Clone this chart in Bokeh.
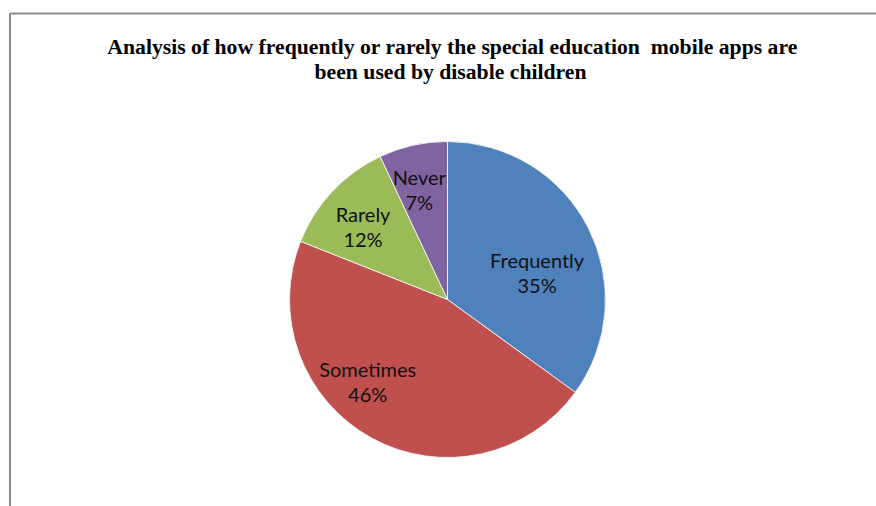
import math
from bokeh.plotting import figure
from bokeh.models import Range1d, ColumnDataSource
from bokeh.core.properties import value
from bokeh.embed import file_html
from bokeh.resources import INLINE

# ---- data ----
categories = ["Frequently", "Sometimes", "Rarely", "Never"]
shares = [35, 46, 12, 7]
colors = ["#4F81BD", "#C0504D", "#9BBB59", "#8064A2"]
title_lines = [
    "Analysis of how frequently or rarely the special education\u00a0 mobile apps are",
    "been used by disable children",
]

W, H = 876, 506
p = figure(width=W, height=H, output_backend="svg", toolbar_location=None,
           x_range=Range1d(0, W), y_range=Range1d(0, H), min_border=0)
p.axis.visible = False
p.grid.visible = False
p.outline_line_color = None
p.background_fill_color = "white"
p.border_fill_color = "white"

# frame lines (chart area border, partly cropped)
p.segment(x0=[9.5, 9.5], y0=[493, 493], x1=[W + 5, 9.5], y1=[493, -5],
          line_color="#8c8c8c", line_width=2)

# pie
cx, cy, r = 447, 207, 158
total = sum(shares)
starts, ends, mids = [], [], []
a = math.pi / 2
for s in shares:
    sweep = 2 * math.pi * s / total
    starts.append(a - sweep)
    ends.append(a)
    mids.append(a - sweep / 2)
    a -= sweep
src = ColumnDataSource(dict(start=starts, end=ends, color=colors, cat=categories))
p.wedge(x=cx, y=cy, radius=r, start_angle="start", end_angle="end",
        fill_color="color", line_color="white", line_width=0.8, source=src)

# labels (layout nudges: radius fraction and angle offset per label)
label_radius = [0.59, 0.73, 0.70, 0.71]
label_angle_shift = [-11, -15, 3, 2]
lx, ly, ltxt = [], [], []
for i, c in enumerate(categories):
    ang = mids[i] + math.radians(label_angle_shift[i])
    rr = r * label_radius[i]
    x = cx + rr * math.cos(ang)
    y = cy + rr * math.sin(ang)
    lx += [x, x]
    ly += [y + 14, y - 11]
    ltxt += [c, f"{shares[i]}%"]
p.text(x=lx, y=ly, text=ltxt, text_align="center", text_baseline="middle",
       text_font=value("Lato"), text_font_size="20px", text_color="#111111")

# title
p.text(x=[452, 450], y=[460, 435], text=title_lines, text_align="center",
       text_baseline="alphabetic", text_font=value("Liberation Serif"),
       text_font_style="bold", text_font_size="21.7px", text_color="black")

open("out.html", "w").write(file_html(p, INLINE))
